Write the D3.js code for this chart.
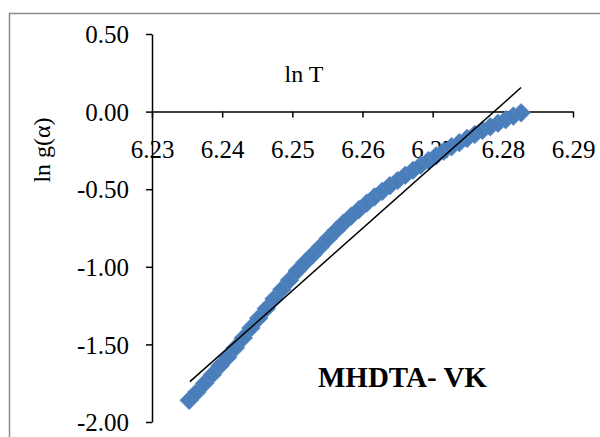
<!DOCTYPE html>
<html>
<head>
<meta charset="utf-8">
<script src="https://cdn.jsdelivr.net/npm/d3@7"></script>
<style>
  body { margin: 0; background: #fff; }
  svg { display: block; }
  text { font-family: "Liberation Serif", "Times New Roman", serif; fill: #000; }
</style>
</head>
<body>
<div id="vis"></div>
<script>
const lnT = [6.2353, 6.2364, 6.2375, 6.2386, 6.2397, 6.2408, 6.2419, 6.2430, 6.2441, 6.2452,
  6.2463, 6.2474, 6.2485, 6.2496, 6.2507, 6.2518, 6.2529, 6.2540, 6.2551, 6.2562,
  6.2573, 6.2584, 6.2595, 6.2606, 6.2617, 6.2628, 6.2639, 6.2650, 6.2661, 6.2672,
  6.2683, 6.2694, 6.2705, 6.2716, 6.2727, 6.2738, 6.2749, 6.2760, 6.2771, 6.2782,
  6.2793, 6.2804, 6.2815, 6.2826];
const lnG = [-1.860, -1.807, -1.751, -1.695, -1.638, -1.582, -1.521, -1.458, -1.394, -1.331,
  -1.269, -1.206, -1.146, -1.086, -1.026, -0.973, -0.923, -0.871, -0.818, -0.767,
  -0.718, -0.673, -0.631, -0.590, -0.550, -0.514, -0.477, -0.444, -0.410, -0.378,
  -0.345, -0.315, -0.285, -0.255, -0.226, -0.200, -0.173, -0.147, -0.121, -0.098,
  -0.075, -0.052, -0.029, -0.008];
// linear trend line end points
const trendT = [6.2354, 6.2826];
const trendG = [-1.740, 0.155];
const xTicks = [6.23, 6.24, 6.25, 6.26, 6.27, 6.28, 6.29];
const yTicks = [0.5, 0, -0.5, -1, -1.5, -2];

const width = 600, height = 437;
const fmt = d => d3.format('.2f')(d).replace('−', '-');

const svg = d3.select('#vis').append('svg')
    .attr('width', width)
    .attr('height', height);

// chart area border
svg.append('path')
    .attr('d', `M9.5,${height} V13.5 H${width}`)
    .attr('fill', 'none')
    .attr('stroke', '#8c8c8c')
    .attr('stroke-width', 1.5);

const x = d3.scaleLinear()
    .domain([6.23, 6.29])
    .range([152, 573]);

const y = d3.scaleLinear()
    .domain([-2, 0.5])
    .range([422, 34]);

const points = lnT.map((t, i) => ({t, g: lnG[i]}));

// x axis through y = 0
const xAxis = svg.append('g')
    .attr('transform', `translate(0, ${y(0)})`)
    .call(d3.axisBottom(x).tickValues(xTicks).tickSize(6).tickSizeOuter(0).tickFormat(fmt));
xAxis.select('.domain').attr('stroke', '#000').attr('stroke-width', 1.5);
xAxis.selectAll('.tick line').attr('stroke', '#000').attr('stroke-width', 1.5);
xAxis.selectAll('.tick text')
    .attr('font-size', 25)
    .attr('font-family', 'Liberation Serif')
    .attr('dy', 0)
    .attr('y', 46);

const yAxis = svg.append('g')
    .attr('transform', `translate(${x(6.23)}, 0)`)
    .call(d3.axisLeft(y).tickValues(yTicks).tickSize(6).tickSizeOuter(0).tickFormat(fmt));
yAxis.select('.domain').attr('stroke', '#000').attr('stroke-width', 1.5);
yAxis.selectAll('.tick line').attr('stroke', '#000').attr('stroke-width', 1.5);
yAxis.selectAll('.tick text')
    .attr('font-size', 25)
    .attr('font-family', 'Liberation Serif')
    .attr('x', -23)
    .attr('dy', '0.35em');

svg.append('g')
  .selectAll('path')
  .data(points)
  .join('path')
    .attr('transform', d => `translate(${x(d.t)}, ${y(d.g)}) rotate(45)`)
    .attr('d', d3.symbol(d3.symbolSquare, 175))
    .attr('fill', '#4a7ebb')
    .attr('stroke', '#5b8cc6')
    .attr('stroke-width', 0.6);

svg.append('line')
    .attr('x1', x(trendT[0]))
    .attr('y1', y(trendG[0]))
    .attr('x2', x(trendT[1]))
    .attr('y2', y(trendG[1]))
    .attr('stroke', '#000')
    .attr('stroke-width', 1.5);

svg.append('text')
    .attr('x', 304)
    .attr('y', 82)
    .attr('text-anchor', 'middle')
    .attr('font-size', 24)
    .text('ln T');

svg.append('text')
    .attr('transform', 'translate(50, 150) rotate(-90)')
    .attr('text-anchor', 'middle')
    .attr('font-size', 24)
    .text('ln g(α)');

svg.append('text')
    .attr('x', 318)
    .attr('y', 387)
    .attr('font-size', 29)
    .attr('font-weight', 'bold')
    .text('MHDTA- VK');
</script>
</body>
</html>
